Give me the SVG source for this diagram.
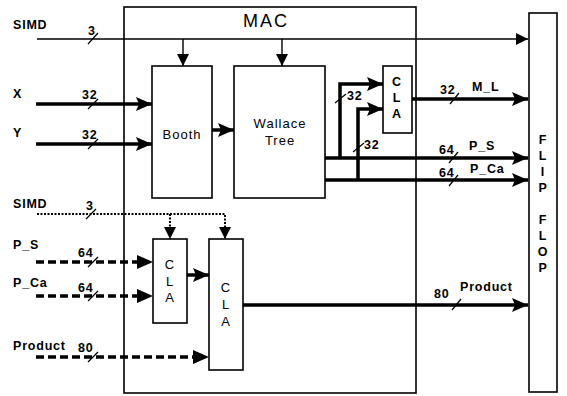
<svg xmlns="http://www.w3.org/2000/svg" width="567" height="396" viewBox="0 0 567 396">
<style>
text{font-family:"Liberation Sans",Arial,sans-serif;font-size:12.5px;fill:#000;font-weight:bold;letter-spacing:0.8px}
.n{font-weight:normal;font-size:13px;letter-spacing:1px}
.box{fill:#fff;stroke:#000;stroke-width:1.6}
.thin{stroke:#000;stroke-width:1.4;fill:none}
.thick{stroke:#000;stroke-width:3.5;fill:none}
.dot{stroke:#000;stroke-width:2;fill:none;stroke-dasharray:2 1.5}
.dash{stroke:#000;stroke-width:3.5;fill:none;stroke-dasharray:8 4}
.sl{stroke:#000;stroke-width:1.2}
.c{text-anchor:middle}
</style>
<defs>
<marker id="ab" markerUnits="userSpaceOnUse" markerWidth="17" markerHeight="14" refX="16" refY="7" orient="auto"><path d="M0,0 L16,7 L0,14 L3,7 Z" fill="#000"/></marker>
<marker id="as" markerUnits="userSpaceOnUse" markerWidth="12" markerHeight="12" refX="12" refY="6" orient="auto"><path d="M0,0 L12,6 L0,12 Z" fill="#000"/></marker>
</defs>
<g id="mac"><rect class="box" x="124" y="7" width="292" height="386"/><text x="266" y="27" class="c" style="font-size:18px;font-weight:normal;letter-spacing:2px">MAC</text></g>
<g id="flipflop"><rect class="box" x="529" y="13" width="28" height="379"/>
<text class="c" x="543" y="144">F</text><text class="c" x="543" y="160">L</text><text class="c" x="543" y="176">I</text><text class="c" x="543" y="192">P</text>
<text class="c" x="543" y="224">F</text><text class="c" x="543" y="240">L</text><text class="c" x="543" y="256">O</text><text class="c" x="543" y="272">P</text></g>
<g id="booth"><rect class="box" x="152" y="66" width="60" height="132"/><text class="c n" x="182" y="139">Booth</text></g>
<g id="wallace"><rect class="box" x="234" y="66" width="91" height="132"/><text class="c n" x="280" y="128">Wallace</text><text class="c n" x="280" y="145">Tree</text></g>
<g id="cla1"><rect class="box" x="383" y="66" width="29" height="67"/><text class="c" x="397" y="86">C</text><text class="c" x="397" y="102">L</text><text class="c" x="397" y="118">A</text></g>
<g id="cla2"><rect class="box" x="153" y="239" width="34" height="84"/><text class="c n" x="170" y="269">C</text><text class="c n" x="170" y="286">L</text><text class="c n" x="170" y="302">A</text></g>
<g id="cla3"><rect class="box" x="209" y="239" width="34" height="131"/><text class="c n" x="226" y="292">C</text><text class="c n" x="226" y="309">L</text><text class="c n" x="226" y="326">A</text></g>
<g id="labels">
<text x="13" y="29">SIMD</text><text x="13" y="98">X</text><text x="13" y="137">Y</text>
<text x="13" y="208">SIMD</text><text x="13" y="249">P_S</text><text x="13" y="287">P_Ca</text><text x="13" y="350">Product</text>
<text x="88" y="35">3</text><text x="82" y="99">32</text><text x="82" y="139">32</text>
<text x="86" y="210">3</text><text x="78" y="257">64</text><text x="78" y="292">64</text><text x="78" y="352">80</text>
<text x="347" y="100">32</text><text x="364" y="149">32</text>
<text x="440" y="94">32</text><text x="472" y="91">M_L</text>
<text x="439" y="154">64</text><text x="469" y="150">P_S</text>
<text x="439" y="177">64</text><text x="470" y="173">P_Ca</text>
<text x="434" y="298">80</text><text x="460" y="291">Product</text>
</g>
<g id="connectors">
<line class="thin" x1="37" y1="39" x2="528" y2="39" marker-end="url(#as)"/>
<line class="thin" x1="183" y1="39" x2="183" y2="66" marker-end="url(#as)"/>
<line class="thin" x1="282" y1="39" x2="282" y2="66" marker-end="url(#as)"/>
<line class="thick" x1="36" y1="104" x2="152" y2="104" marker-end="url(#ab)"/>
<line class="thick" x1="36" y1="144" x2="152" y2="144" marker-end="url(#ab)"/>
<line class="thick" x1="212" y1="130" x2="234" y2="130" marker-end="url(#ab)"/>
<line class="thick" x1="325" y1="158" x2="528" y2="158" marker-end="url(#ab)"/>
<line class="thick" x1="325" y1="180" x2="528" y2="180" marker-end="url(#ab)"/>
<polyline class="thick" points="340,158 340,84 383,84" marker-end="url(#ab)"/>
<polyline class="thick" points="358,180 358,109 383,109" marker-end="url(#ab)"/>
<line class="thick" x1="412" y1="99" x2="528" y2="99" marker-end="url(#ab)"/>
<polyline class="dot" points="37,214 225,214 225,239" marker-end="url(#as)"/>
<line class="dot" x1="170" y1="214" x2="170" y2="239" marker-end="url(#as)"/>
<line class="dash" x1="36" y1="262" x2="140" y2="262"/><path d="M137,255 L153,262 L137,269 Z"/>
<line class="dash" x1="36" y1="296" x2="140" y2="296"/><path d="M137,289 L153,296 L137,303 Z"/>
<line class="dash" x1="36" y1="357" x2="196" y2="357"/><path d="M193,350 L209,357 L193,364 Z"/>
<line class="thick" x1="187" y1="275" x2="209" y2="275" marker-end="url(#ab)"/>
<line class="thick" x1="243" y1="305" x2="528" y2="305" marker-end="url(#ab)"/>
<line class="sl" x1="88" y1="44" x2="98" y2="33"/>
<line class="sl" x1="88" y1="109" x2="98" y2="99"/>
<line class="sl" x1="88" y1="149" x2="98" y2="139"/>
<line class="sl" x1="86" y1="219" x2="96" y2="209"/>
<line class="sl" x1="88" y1="267" x2="98" y2="257"/>
<line class="sl" x1="88" y1="301" x2="98" y2="291"/>
<line class="sl" x1="88" y1="362" x2="98" y2="352"/>
<line class="sl" x1="335" y1="103" x2="346" y2="94"/>
<line class="sl" x1="353" y1="152" x2="364" y2="143"/>
<line class="sl" x1="450" y1="104" x2="459" y2="93"/>
<line class="sl" x1="449" y1="163" x2="458" y2="152"/>
<line class="sl" x1="449" y1="186" x2="458" y2="175"/>
<line class="sl" x1="452" y1="310" x2="461" y2="299"/>
</g>
</svg>
